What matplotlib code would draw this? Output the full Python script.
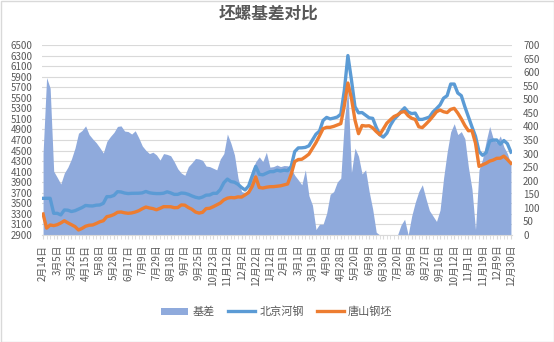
import matplotlib
matplotlib.use('Agg')
import matplotlib.pyplot as plt
from matplotlib.patches import Patch, Rectangle
from matplotlib.lines import Line2D
import numpy as np

plt.rcParams['font.family'] = ['Noto Sans CJK SC', 'DejaVu Sans']

title = '坯螺基差对比'
series_names = ['基差', '北京河钢', '唐山钢坯']

tick_dates = ['2月14日', '3月5日', '3月25日', '4月15日', '5月8日', '5月28日', '6月17日',
              '7月9日', '7月29日', '8月18日', '9月7日', '9月25日', '10月23日', '11月12日',
              '12月2日', '12月22日', '1月12日', '2月1日', '3月1日', '3月19日', '4月9日',
              '4月28日', '5月20日', '6月9日', '6月30日', '7月20日', '8月9日', '8月27日',
              '9月16日', '10月12日', '11月1日', '11月19日', '12月9日', '12月30日']

basis = [300, 580, 541, 235, 212, 188, 228, 250, 280, 320,
         375, 385, 402, 370, 354, 340, 322, 302, 345, 363,
         378, 400, 402, 383, 381, 372, 384, 358, 328, 312,
         300, 305, 295, 276, 300, 297, 292, 270, 244, 228,
         220, 252, 266, 282, 280, 275, 254, 252, 246, 240,
         280, 300, 372, 338, 295, 210, 160, 156, 170, 240,
         270, 288, 270, 305, 250, 252, 258, 252, 256, 255,
         245, 220, 203, 185, 240, 145, 110, 20, 40, 40,
         80, 150, 160, 195, 210, 420, 540, 230, 320, 290,
         225, 240, 160, 95, 10, 0, 0, 0, 0, 0,
         0, 37, 58, 0, 70, 120, 160, 185, 135, 90,
         70, 50, 92, 210, 305, 380, 410, 370, 381, 355,
         250, 170, 20, 240, 280, 345, 400, 355, 340, 365,
         325, 300, 260]

beijing = [3595, 3595, 3595, 3311, 3311, 3280, 3374, 3370, 3345, 3360,
           3390, 3420, 3460, 3452, 3450, 3465, 3469, 3500, 3627, 3627,
           3650, 3721, 3715, 3695, 3685, 3690, 3690, 3692, 3698, 3725,
           3700, 3690, 3685, 3685, 3692, 3718, 3698, 3670, 3670, 3695,
           3690, 3670, 3640, 3615, 3600, 3620, 3655, 3658, 3690, 3690,
           3760, 3890, 3960, 3912, 3900, 3860, 3800, 3753, 3830, 4020,
           4200, 4050, 4040, 4070, 4100, 4100, 4128, 4112, 4128, 4118,
           4200, 4480, 4550, 4552, 4560, 4590, 4700, 4810, 4870, 5070,
           5128, 5100, 5115, 5135, 5190, 5640, 6300, 5840, 5331, 5215,
           5220, 5170, 5120, 5110, 4940, 4800, 4755, 4830, 4980, 5090,
           5160, 5240, 5310, 5230, 5200, 5210, 5090, 5090, 5111, 5135,
           5230, 5295, 5365, 5492, 5540, 5760, 5760, 5590, 5540, 5330,
           5140, 4950, 4770, 4480, 4410, 4460, 4680, 4700, 4700, 4620,
           4690, 4630, 4470]

tangshan = [3298, 3030, 3090, 3078, 3095, 3128, 3170, 3130, 3096, 3060,
            2995, 3025, 3066, 3085, 3090, 3118, 3150, 3170, 3248, 3262,
            3288, 3330, 3336, 3320, 3311, 3318, 3335, 3360, 3398, 3430,
            3412, 3400, 3378, 3405, 3437, 3437, 3435, 3418, 3420, 3470,
            3465, 3420, 3387, 3335, 3315, 3330, 3400, 3406, 3436, 3470,
            3505, 3565, 3598, 3610, 3605, 3622, 3618, 3660, 3705, 3820,
            4000, 3800, 3790, 3805, 3815, 3816, 3823, 3832, 3850, 3867,
            4050, 4290, 4330, 4335, 4380, 4432, 4540, 4650, 4780, 4915,
            4940, 4940, 4958, 4984, 5010, 5350, 5780, 5490, 5079, 4820,
            4975, 4965, 4970, 4930, 4860, 4800, 4910, 5020, 5085, 5145,
            5175, 5225, 5240, 5160, 5111, 5090, 4950, 4935, 5000, 5070,
            5150, 5235, 5268, 5235, 5220, 5280, 5300, 5210, 5100, 4975,
            4875, 4880, 4640, 4200, 4230, 4260, 4300, 4320, 4353, 4355,
            4395, 4330, 4258]

AREA_C = '#8FAADC'
BJ_C = '#5B9BD5'
TS_C = '#ED7D31'
TXT = '#595959'
GRID = '#D9D9D9'

N = len(basis)
x = np.arange(N)
tick_step = (N - 1) // (len(tick_dates) - 1)

fig = plt.figure(figsize=(5.54, 3.42), dpi=100)
ax = fig.add_axes([42 / 554, 1 - 235 / 342, 470 / 554, 190 / 342])
ax2 = ax.twinx()

# right axis: basis area
ax.fill_between(x, basis, 0, color=AREA_C, lw=0, zorder=2)
ax.set_ylim(0, 700)
ax.set_yticks(range(0, 701, 50))
ax.yaxis.tick_right()
ax.set_xlim(-0.3, N - 1 + 0.3)

# left axis: price lines
ax2.plot(x, beijing, color=BJ_C, lw=2.4, solid_joinstyle='round', zorder=3)
ax2.plot(x, tangshan, color=TS_C, lw=2.4, solid_joinstyle='round', zorder=4)
ax2.set_ylim(2900, 6500)
ax2.set_yticks(range(2900, 6501, 200))
ax2.yaxis.tick_left()

# gridlines (behind area) following left axis
for g in range(2900, 6501, 200):
    ax.plot([-1, N + 1], [g, g], transform=ax2.transData, color=GRID, lw=0.8, zorder=1)

for a in (ax, ax2):
    for s in a.spines.values():
        s.set_visible(False)
ax.spines['bottom'].set_visible(True)
ax.spines['bottom'].set_color(GRID)

ax.tick_params(axis='y', length=0, labelsize=7, labelcolor=TXT, pad=8)
ax2.tick_params(axis='y', length=0, labelsize=7, labelcolor=TXT, pad=7)

ax.set_xticks(x[::tick_step])
ax.set_xticklabels(tick_dates, rotation=90, fontsize=7, color=TXT)
ax.set_xticks(x, minor=True)
ax.tick_params(axis='x', which='both', length=3, color=GRID, pad=4)

fig.text(268 / 554, 1 - 14 / 342, title, ha='center', va='center',
         fontsize=12, fontweight='bold', color=TXT)

handles = [Patch(facecolor=AREA_C, edgecolor='none'),
           Line2D([], [], color=BJ_C, lw=2.4),
           Line2D([], [], color=TS_C, lw=2.4)]
leg = fig.legend(handles, series_names, loc='center', bbox_to_anchor=(0.5, 1 - 312 / 342),
                 ncol=3, frameon=False, fontsize=8, handlelength=2.4,
                 columnspacing=1.2, handletextpad=0.4)
for t in leg.get_texts():
    t.set_color(TXT)

fig.patches.append(Rectangle((0.5 / 554, 0.5 / 342), 553 / 554, 341 / 342,
                             transform=fig.transFigure, fill=False,
                             edgecolor=GRID, lw=1))

fig.savefig('out.png', dpi=100)
